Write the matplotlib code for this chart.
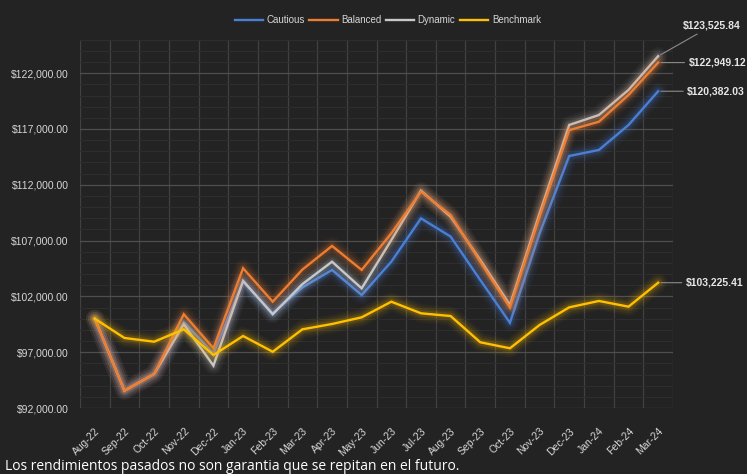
import matplotlib
matplotlib.use("Agg")
import matplotlib.pyplot as plt
from matplotlib.ticker import MultipleLocator, FuncFormatter

months = ['Aug-22', 'Sep-22', 'Oct-22', 'Nov-22', 'Dec-22', 'Jan-23', 'Feb-23', 'Mar-23',
          'Apr-23', 'May-23', 'Jun-23', 'Jul-23', 'Aug-23', 'Sep-23', 'Oct-23', 'Nov-23',
          'Dec-23', 'Jan-24', 'Feb-24', 'Mar-24']

cautious = [100000, 93550, 95050, 99700, 96900, 103300, 100500, 102800, 104370, 102120,
            105110, 108990, 107360, 103470, 99640, 107650, 114580, 115120, 117360, 120382.03]
balanced = [100000, 93550, 95050, 100400, 97350, 104520, 101525, 104400, 106520, 104370,
            107650, 111380, 109290, 105100, 101000, 109140, 116900, 117650, 120050, 122949.12]
dynamic = [100000, 93550, 95050, 99500, 95800, 103400, 100400, 103100, 105110, 102720,
           107050, 111470, 109140, 105260, 101230, 109430, 117360, 118250, 120500, 123525.84]
benchmark = [100000, 98272, 97940, 99050, 96750, 98450, 97040, 99050, 99527, 100125,
             101525, 100485, 100240, 97890, 97350, 99440, 101020, 101590, 101080, 103225.41]

series_names = ['Cautious', 'Balanced', 'Dynamic', 'Benchmark']
series_values = [cautious, balanced, dynamic, benchmark]
series_colors = ['#4a7fd6', '#ee7d31', '#c8c8c8', '#ffc000']
draw_order = [0, 2, 1, 3]
label_offsets = {0: (21, 0), 1: (22, 0), 2: (18, 22), 3: (20, 0)}

BG = '#232323'
TXT = '#d6d6d6'

fig = plt.figure(figsize=(7.47, 4.74), dpi=100, facecolor=BG)
ax = fig.add_axes([80 / 747, 1 - 408 / 474, 593 / 747, (408 - 39.7) / 474])
ax.set_facecolor(BG)

x = list(range(len(months)))
handles = {}
for z, i in enumerate(draw_order):
    c = series_colors[i]
    vals = series_values[i]
    for lw, a in [(13, 0.045), (10, 0.06), (7, 0.09), (4.5, 0.13)]:
        ax.plot(x, vals, color=c, lw=lw, alpha=a, solid_capstyle='round',
                solid_joinstyle='round', zorder=3 + z * 2)
    h, = ax.plot(x, vals, color=c, lw=1.7, zorder=4 + z * 2, solid_joinstyle='miter')
    handles[i] = h
    dx, dy = label_offsets[i]
    v = vals[-1]
    ax.annotate(f"${v:,.2f}", xy=(x[-1], v), xytext=(dx, dy), textcoords='offset points',
                ha='left', va='center', fontsize=7.5, fontweight='bold', color='#e6e6e6',
                family='Liberation Sans',
                arrowprops=dict(arrowstyle='-', color='#8c8c8c', lw=0.8,
                                shrinkA=1, shrinkB=2),
                annotation_clip=False, zorder=20)

ax.set_xlim(-0.5, len(months) - 0.5)
ax.set_ylim(92000, 125000)

ax.yaxis.set_major_locator(MultipleLocator(5000, offset=2000))
ax.yaxis.set_minor_locator(MultipleLocator(1000))
ax.yaxis.set_major_formatter(FuncFormatter(lambda v, p: f"${v:,.2f}"))
ax.set_xticks(x)
ax.set_xticks([i - 0.5 for i in range(len(months) + 1)], minor=True)
ax.set_xticklabels(months)

ax.grid(which='major', axis='y', color='#4e4e4e', lw=0.9, zorder=0)
ax.grid(which='minor', axis='y', color='#2f2f2f', lw=0.7, zorder=0)
ax.grid(which='minor', axis='x', color='#414141', lw=0.9, zorder=0)
ax.set_axisbelow(True)

for s in ax.spines.values():
    s.set_visible(False)

ax.tick_params(axis='y', which='both', length=0, pad=8, labelsize=7.5, labelcolor=TXT)
ax.tick_params(axis='x', which='both', length=0, pad=13, labelsize=7.5, labelcolor=TXT)
for lab in ax.get_yticklabels():
    lab.set_family('Liberation Sans')
for lab in ax.get_xticklabels():
    lab.set_family('Liberation Sans')
    lab.set_rotation(45)
    lab.set_ha('right')
    lab.set_rotation_mode('anchor')

leg = fig.legend([handles[i] for i in range(4)], series_names, loc='center',
                 bbox_to_anchor=(0.519, 0.958), ncol=4, frameon=False,
                 handlelength=2.9, handletextpad=0.35, columnspacing=0.5,
                 prop={'family': 'Liberation Sans', 'size': 7})
for t in leg.get_texts():
    t.set_color(TXT)

fig.text(5 / 747, 4 / 474, "Los rendimientos pasados no son garantia que se repitan en el futuro.",
         ha='left', va='baseline', fontsize=10, color='white', family='Open Sans')

fig.savefig('out.png', dpi=100, facecolor=BG)
